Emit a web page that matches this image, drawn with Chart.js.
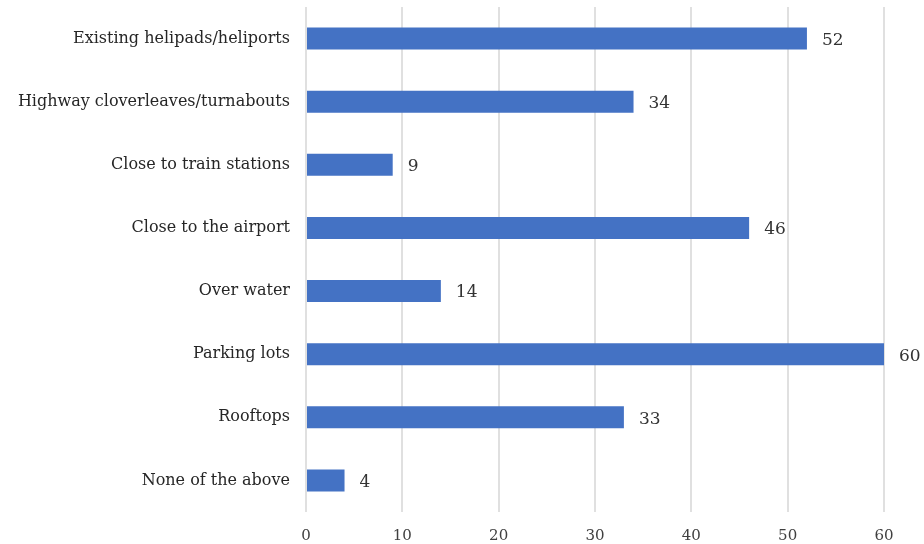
<!DOCTYPE html>
<html>
<head>
<meta charset="utf-8">
<script src="https://cdn.jsdelivr.net/npm/chart.js@4/dist/chart.umd.min.js"></script>
<style>
  html, body { margin: 0; padding: 0; background: #ffffff; }
  #wrap { width: 924px; height: 544px; position: relative; }
</style>
</head>
<body>
<div id="wrap"><canvas id="chart" width="924" height="544"></canvas></div>
<script>
// Survey answers: preferred locations for vertiports
const categories = [
  'Existing helipads/heliports',
  'Highway cloverleaves/turnabouts',
  'Close to train stations',
  'Close to the airport',
  'Over water',
  'Parking lots',
  'Rooftops',
  'None of the above'
];
const responses = [52, 34, 9, 46, 14, 60, 33, 4];
const axisMax = 60;
const axisStep = 10;

const serif = '"DejaVu Serif", "Liberation Serif", serif';

// Writes each bar's value just past its end
const valueLabels = {
  id: 'valueLabels',
  afterDatasetsDraw(chart) {
    const ctx = chart.ctx;
    const meta = chart.getDatasetMeta(0);
    ctx.save();
    ctx.font = '17px ' + serif;
    ctx.fillStyle = '#333333';
    ctx.textAlign = 'left';
    ctx.textBaseline = 'middle';
    meta.data.forEach((bar, i) => {
      ctx.fillText(String(responses[i]), bar.x + 15, bar.y + 2);
    });
    ctx.restore();
  }
};

new Chart(document.getElementById('chart'), {
  type: 'bar',
  data: {
    labels: categories,
    datasets: [{
      data: responses,
      backgroundColor: '#4472C4',
      borderWidth: 0,
      categoryPercentage: 1,
      barPercentage: 0.35
    }]
  },
  options: {
    indexAxis: 'y',
    responsive: false,
    animation: false,
    layout: { padding: { top: 7, right: 40, bottom: 0, left: 0 } },
    plugins: {
      legend: { display: false },
      tooltip: { enabled: false }
    },
    scales: {
      x: {
        min: 0,
        max: axisMax,
        ticks: {
          stepSize: axisStep,
          padding: 15,
          color: '#404040',
          font: { family: serif, size: 15 }
        },
        grid: { color: '#e0e0e0', lineWidth: 2, drawTicks: false },
        border: { display: false },
        afterFit(scale) {
          scale.height = 32;
          scale.paddingLeft = 0;
          scale.paddingRight = 0;
        }
      },
      y: {
        ticks: {
          padding: 16,
          color: '#262626',
          font: { family: serif, size: 16 }
        },
        grid: { display: false, drawTicks: false },
        border: { display: false },
        afterFit(scale) {
          scale.width = 306;
          scale.paddingTop = 0;
          scale.paddingBottom = 0;
        }
      }
    }
  },
  plugins: [valueLabels]
});
</script>
</body>
</html>
